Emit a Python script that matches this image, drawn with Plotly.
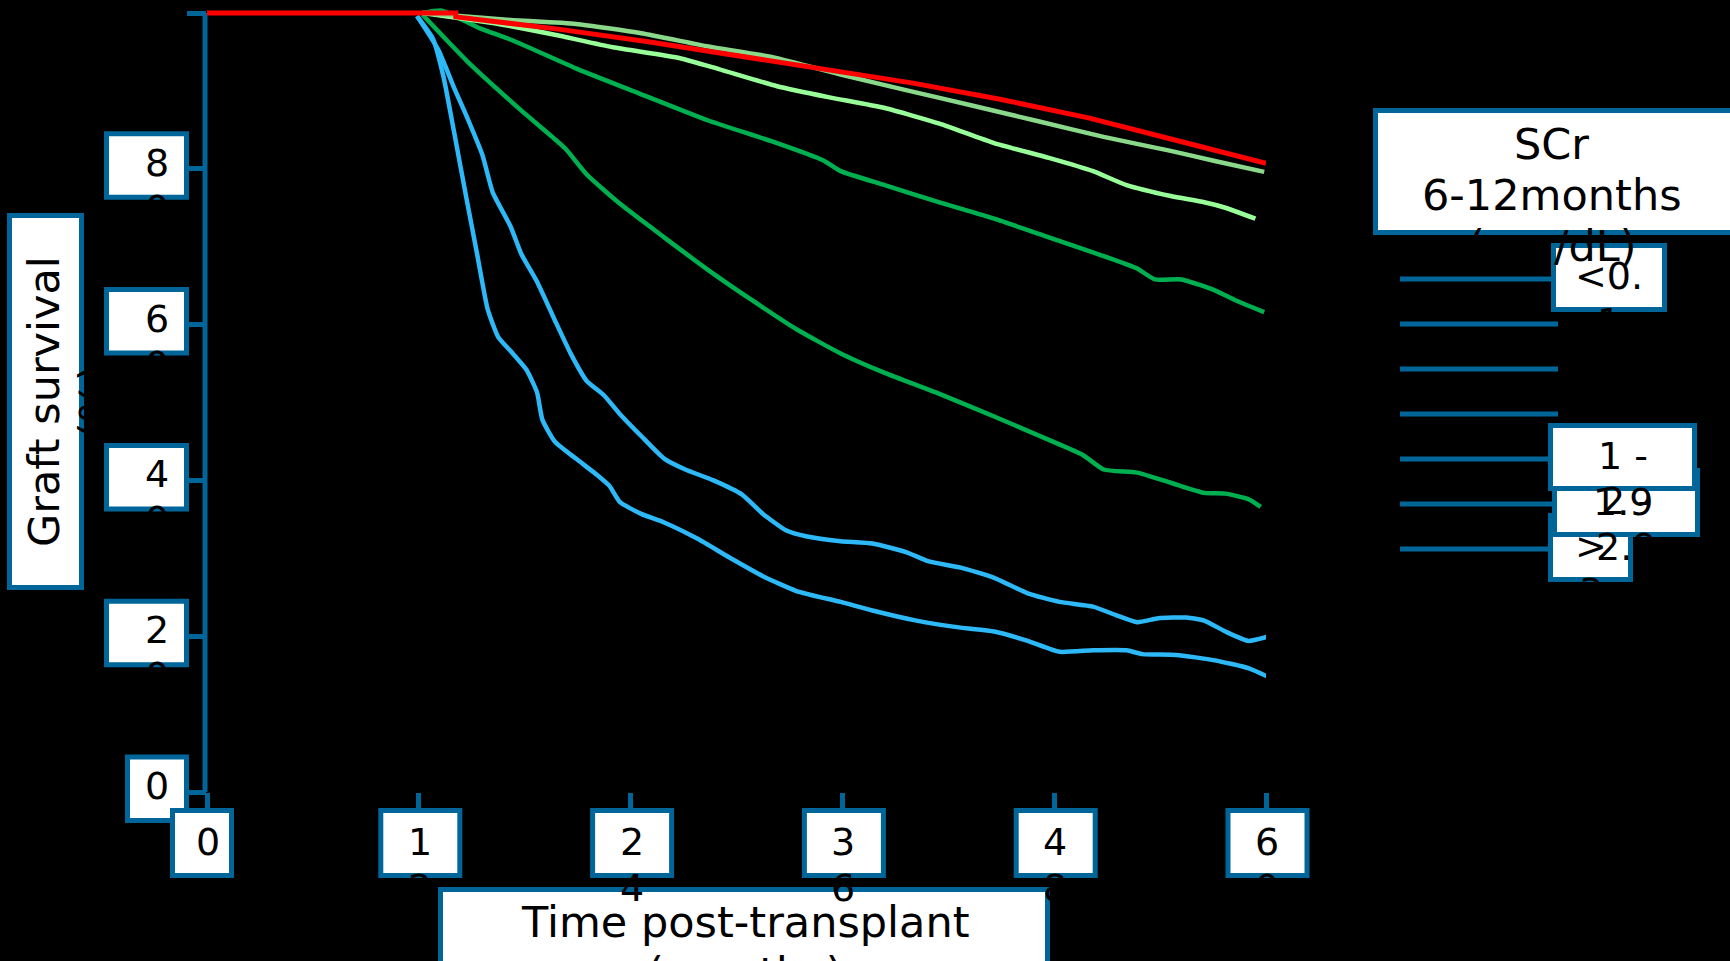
import plotly.graph_objects as go

# ---------------- data ----------------
x_ticks = [0, 12, 24, 36, 48, 60]
x_tick_labels = ["0", "12", "24", "36", "48", "60"]
y_ticks = [0, 20, 40, 60, 80]
y_tick_labels = ["0", "20", "40", "60", "80"]
y_axis_ticks = [0, 20, 40, 60, 80, 100]

x_title = ["Time post-transplant", "(months)"]
y_title = ["Graft survival", "(%)"]
legend_title = ["SCr", "6-12months", "(mg/dL)"]
# legend rows (7 rows); labelled rows with their wrapped text lines
legend_rows = 7
legend_label_rows = [0, 4, 5, 6]
legend_labels = [["<0.", "1"], ["1 -", "1.9"], ["2 -", "2.9"], [">", "3"]]

red_m = [0, 14.1, 14.1, 20, 25, 32.5, 40, 45, 50, 55, 60]
red_s = [100, 100, 99.5, 97.9, 96.3, 93.6, 91.0, 88.9, 86.5, 83.6, 80.7]

lga_m = [12.2, 17.2, 20.9, 24.6, 28.4, 32.1, 35.9, 39.6, 43.4, 47.1, 50.8, 54.6, 57.1, 59.9]
lga_s = [100, 99.1, 98.6, 97.4, 95.7, 94.3, 92.1, 90.1, 88.1, 86.1, 84.1, 82.3, 81.0, 79.6]

lgb_m = [12.2, 16.5, 19.7, 23.0, 26.8, 29.0, 32.3, 35.2, 38.4, 41.5, 44.6, 47.7, 50.2, 52.1, 54.6, 56.5, 57.7, 59.4]
lgb_s = [100, 98.6, 97.2, 95.6, 94.2, 92.8, 90.6, 89.2, 87.8, 85.8, 83.3, 81.4, 79.7, 77.9, 76.5, 75.7, 75.0, 73.6]

gu_m = [12.2, 13.3, 15.5, 17.3, 21.0, 24.8, 28.4, 32.3, 34.9, 35.9, 38.4, 41.5, 44.6, 47.7, 50.8, 52.7, 53.7, 55.2, 57.1, 58.3, 59.9]
gu_s = [100, 100.3, 98.0, 96.5, 92.8, 89.4, 86.2, 83.3, 81.1, 79.7, 77.9, 75.7, 73.6, 71.2, 68.8, 67.2, 65.8, 65.8, 64.4, 63.1, 61.6]

gl_m = [12.2, 14.7, 17.8, 20.3, 21.5, 23.4, 25.9, 28.4, 30.9, 33.4, 35.9, 38.4, 41.5, 44.6, 47.7, 49.6, 50.8, 52.7, 54.6, 56.5, 57.7, 59.0, 59.7]
gl_s = [99.8, 93.9, 87.5, 82.6, 79.3, 75.5, 71.2, 67.0, 63.1, 59.4, 56.3, 53.8, 51.1, 48.2, 45.2, 43.3, 41.4, 41.0, 39.7, 38.4, 38.3, 37.6, 36.6]

bu_m = [11.9, 13.1, 14.0, 14.7, 15.6, 16.2, 17.2, 17.8, 18.7, 19.7, 20.6, 21.5, 22.5, 23.4, 24.6, 25.9, 27.1, 28.7, 30.3, 31.5,
        32.8, 34.0, 35.9, 37.7, 39.6, 40.9, 42.7, 44.6, 46.5, 48.3, 50.2, 51.5, 52.7, 53.9, 55.5, 56.5, 57.7, 59.0, 60.2]
bu_s = [99.6, 95.3, 90.4, 86.8, 81.8, 76.9, 72.6, 69.1, 65.5, 60.6, 56.3, 52.8, 50.9, 48.5, 45.7, 42.8, 41.4, 40.0, 38.2, 35.7,
        33.6, 32.8, 32.2, 31.9, 30.8, 29.6, 28.8, 27.5, 25.5, 24.4, 23.8, 22.7, 21.8, 22.3, 22.4, 22.0, 20.6, 19.4, 20.0]

bl_m = [11.9, 12.8, 13.4, 14.0, 14.7, 15.3, 15.9, 16.5, 17.2, 18.1, 18.7, 19.0, 19.7, 20.9, 22.1, 22.8, 23.4, 24.6, 25.9,
        27.8, 29.6, 31.5, 33.4, 35.9, 37.7, 40.2, 42.7, 44.6, 46.5, 48.3, 50.2, 52.1, 53.0, 54.9, 57.1, 59.0, 60.1]
bl_s = [99.6, 96.7, 91.8, 84.7, 76.2, 69.1, 62.0, 58.4, 56.6, 54.2, 51.3, 47.8, 45.0, 42.8, 40.7, 39.3, 37.2, 35.7, 34.6,
        32.5, 30.1, 27.7, 25.8, 24.4, 23.3, 22.0, 21.1, 20.6, 19.4, 18.0, 18.2, 18.2, 17.7, 17.6, 16.9, 15.9, 14.8]

# ---------------- styling / geometry ----------------
W, H = 1730, 961
L_PX, R_PX = 207, 1266            # plot area left / right (x = 0 / 60)
B_PX = 792                        # pixel row of y = 0
PX_PER_PCT = 7.79                 # pixels per survival percent
T_PX = 5                          # plot area top
X_RANGE = [0, 60]
Y_RANGE = [0, (B_PX - T_PX) / PX_PER_PCT]   # a little headroom above 100 %
BLUE = "#006699"
FONT = "DejaVu Sans"
TICK_FS = 38
TITLE_FS = 43
LINE_GAP_TICK = 46
LINE_GAP_TITLE = 51


def fx(p):
    return (p - L_PX) / (R_PX - L_PX)


def fy(p):
    return (B_PX - p) / (B_PX - T_PX)


def xval_px(v):
    # pixel column of an x value (same linear scale as the x axis)
    return L_PX + (v - X_RANGE[0]) / (X_RANGE[1] - X_RANGE[0]) * (R_PX - L_PX)


def yval_px(v):
    return B_PX - (v - Y_RANGE[0]) / (Y_RANGE[1] - Y_RANGE[0]) * (B_PX - T_PX)


shapes = []
annotations = []


def box_px(x0, y0, x1, y1, lw=5):
    h = lw / 2
    shapes.append(dict(type="rect", xref="paper", yref="paper",
                       x0=fx(x0 + h), x1=fx(x1 - h), y0=fy(y1 - h), y1=fy(y0 + h),
                       fillcolor="white", line=dict(color=BLUE, width=lw), layer="above"))


def text_px(s, x, y, size, xanchor="center", angle=0):
    annotations.append(dict(text=s, x=fx(x), y=fy(y), xref="paper", yref="paper",
                            xanchor=xanchor, yanchor="middle", showarrow=False,
                            textangle=angle, font=dict(family=FONT, size=size, color="black")))


# y axis line from 0 % to 100 %
shapes.append(dict(type="line", xref="paper", yref="y", x0=fx(205), x1=fx(205),
                   y0=0, y1=100, line=dict(color=BLUE, width=5), layer="below"))

# y tick label boxes
for v, lab in zip(y_ticks, y_tick_labels):
    left = 104 if len(lab) > 1 else 125
    ty = yval_px(v)
    box_px(left, ty - 37.5, 189, ty + 31)
# x tick label boxes
for v, lab in zip(x_ticks, x_tick_labels):
    tx = xval_px(v)
    if len(lab) > 1:
        box_px(tx - 40.5, 808, tx + 43.5, 878)
    else:
        box_px(tx - 37, 808, tx + 27, 878)

# axis title boxes
box_px(438, 887, 1050, 1010)
box_px(7, 213, 84, 590)
box_px(1373, 108, 1740, 235)

# legend sample lines
for i in range(legend_rows):
    yy = 279 + 45 * i
    shapes.append(dict(type="line", xref="paper", yref="paper",
                       x0=fx(1400), x1=fx(1558), y0=fy(yy), y1=fy(yy),
                       line=dict(color=BLUE, width=5), layer="above"))

# legend label boxes, drawn bottom-up
legend_boxes = {0: (1551, 1667, 243, 312), 4: (1548, 1697, 423, 491),
                5: (1552, 1700, 468, 537), 6: (1548, 1633, 513, 582)}
for r in reversed(legend_label_rows):
    x0, x1, y0, y1 = legend_boxes[r]
    box_px(x0, y0, x1, y1)

# ---- texts ----
for v, lab in zip(y_ticks, y_tick_labels):
    ty = yval_px(v)
    for k, ch in enumerate(lab):
        text_px(ch, 171, ty - 6 + LINE_GAP_TICK * k, TICK_FS, xanchor="right")
for v, lab in zip(x_ticks, x_tick_labels):
    tx = xval_px(v)
    for k, ch in enumerate(lab):
        text_px(ch, tx + 1, 841.5 + LINE_GAP_TICK * k, TICK_FS)

for k, s in enumerate(x_title):
    text_px(s, 745, 922 + LINE_GAP_TITLE * k, TITLE_FS)
for k, s in enumerate(y_title):
    text_px(s, 44 + LINE_GAP_TITLE * k, 402, TITLE_FS, angle=-90)
for k, s in enumerate(legend_title):
    text_px(s, 1551.5, 144 + LINE_GAP_TITLE * k, TITLE_FS)

for r, lines in zip(legend_label_rows, legend_labels):
    x0, x1, y0, y1 = legend_boxes[r]
    cy = 279 + 45 * r - 3
    for k, s in enumerate(lines):
        text_px(s, (x0 + x1) / 2, cy + LINE_GAP_TICK * k, TICK_FS)

# ---------------- figure ----------------
fig = go.Figure()
series = [
    ("SCr group 7", bl_m, bl_s, "#2DB9F7", 4.5),
    ("SCr group 6", bu_m, bu_s, "#2DB9F7", 4.5),
    ("SCr group 5", gl_m, gl_s, "#00B050", 4.5),
    ("SCr group 4", gu_m, gu_s, "#00B050", 4.5),
    ("SCr group 3", lgb_m, lgb_s, "#99FF99", 4.5),
    ("SCr group 2", lga_m, lga_s, "#8AD88A", 4.5),
]
for name, m, s, c, w in series:
    fig.add_trace(go.Scatter(x=m, y=s, mode="lines", name=name, showlegend=False,
                             hoverinfo="skip", cliponaxis=False,
                             line=dict(color=c, width=w, shape="spline", smoothing=0.5)))
fig.add_trace(go.Scatter(x=red_m, y=red_s, mode="lines", name="SCr group 1", showlegend=False,
                         hoverinfo="skip", cliponaxis=False,
                         line=dict(color="#FF0000", width=5)))

fig.update_layout(
    width=W, height=H, autosize=False,
    margin=dict(l=L_PX, r=W - R_PX, t=T_PX, b=H - B_PX, pad=0),
    paper_bgcolor="black", plot_bgcolor="black",
    showlegend=False,
    xaxis=dict(range=X_RANGE, tickvals=x_ticks, ticks="outside", ticklen=16, tickwidth=5,
               tickcolor=BLUE, showticklabels=False, showline=False, showgrid=False,
               zeroline=False, fixedrange=True),
    yaxis=dict(range=Y_RANGE, tickvals=y_axis_ticks, ticks="outside", ticklen=19, tickwidth=5,
               tickcolor=BLUE, showticklabels=False, showline=False,
               showgrid=False, zeroline=False, fixedrange=True),
    shapes=shapes,
    annotations=annotations,
)

fig.write_html("out.html", config={"displayModeBar": False},
               post_script="document.body.style.margin='0';document.body.style.padding='0';"
                           "document.body.style.background='black';document.body.style.overflow='hidden';")
